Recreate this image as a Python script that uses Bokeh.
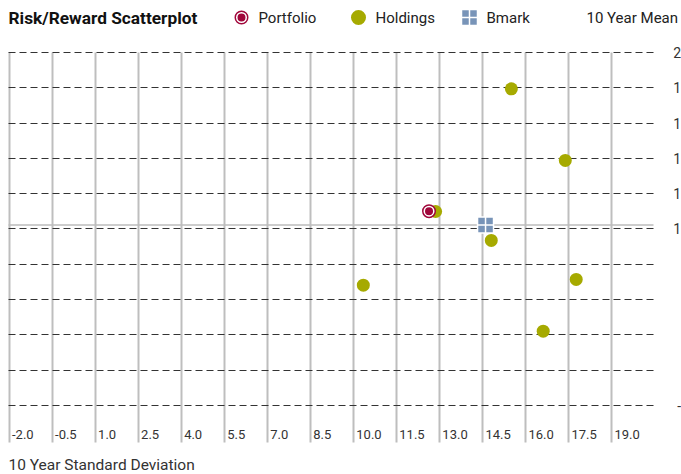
from bokeh.plotting import figure
from bokeh.models import ColumnDataSource, FixedTicker, Range1d, Grid
from bokeh.core.properties import value
from bokeh.embed import file_html
from bokeh.resources import INLINE

# ---------------- data ----------------
chart_title = "Risk/Reward Scatterplot"
x_title = "10 Year Standard Deviation"
y_title = "10 Year Mean"
series_names = ["Portfolio", "Holdings", "Bmark"]

x_ticks = [-2.0, -0.5, 1.0, 2.5, 4.0, 5.5, 7.0, 8.5, 10.0, 11.5, 13.0, 14.5, 16.0, 17.5, 19.0]
x_tick_labels = ["-2.0", "-0.5", "1.0", "2.5", "4.0", "5.5", "7.0", "8.5",
                 "10.0", "11.5", "13.0", "14.5", "16.0", "17.5", "19.0"]
y_ticks = [22.0, 19.6, 17.2, 14.8, 12.4, 10.0, 7.6, 5.2, 2.8, 0.4, -2.0]
# the right-hand labels as they are visible in the reference (cut at its edge)
y_tick_labels = ["2", "1", "1", "1", "1", "1", "", "", "", "", "-"]

portfolio_sd = [12.64]
portfolio_mean = [11.21]
holdings_sd = [12.87, 15.51, 17.39, 14.81, 17.77, 10.35, 16.62]
holdings_mean = [11.19, 19.53, 14.66, 9.22, 6.57, 6.18, 3.05]
bmark_sd = [14.61]
bmark_mean = [10.27]

# ---------------- style ----------------
C_PORT = "#A0063A"
C_HOLD = "#A6AA00"
C_BMARK = "#7894B8"
C_TEXT = "#222222"
FONT = value("Roboto")

# ---------------- layout (pixels -> data via linear scales) ----------------
W, H = 681, 474
X_PX, Y_PX = 28.69, 14.708          # pixels per data unit
CX_FIRST, CY_FIRST = 8.5, 52.0      # canvas position of first x tick / top y tick
PLOT_RIGHT_CX, PLOT_BOTTOM_CY = 653.0, 442.0


def to_x(cx):
    return x_ticks[0] + (cx - CX_FIRST) / X_PX


def to_y(cy):
    return y_ticks[0] - (cy - CY_FIRST) / Y_PX


p = figure(width=W, height=H,
           x_range=Range1d(to_x(0), to_x(W)), y_range=Range1d(to_y(H), to_y(0)),
           x_axis_location=None, y_axis_location=None,
           toolbar_location=None, output_backend="svg",
           min_border=0, outline_line_color=None,
           background_fill_color="white", border_fill_color="white")
p.center = []

x_lo, x_hi = to_x(8), to_x(PLOT_RIGHT_CX)
y_lo, y_hi = to_y(PLOT_BOTTOM_CY), y_ticks[0]

if "cross_bounds" in Grid.properties():
    vgrid = Grid(dimension=0, ticker=FixedTicker(ticks=x_ticks),
                 grid_line_color="#BEBEBE", grid_line_width=2, cross_bounds=(y_lo, y_hi))
    hgrid = Grid(dimension=1, ticker=FixedTicker(ticks=y_ticks),
                 grid_line_color="#333333", grid_line_width=1, grid_line_dash="7 4",
                 cross_bounds=(x_lo, x_hi))
    p.add_layout(vgrid, "center")
    p.add_layout(hgrid, "center")
else:
    p.segment(x0=x_ticks, x1=x_ticks, y0=y_lo, y1=y_hi, line_color="#BEBEBE", line_width=2)
    p.segment(x0=x_lo, x1=x_hi, y0=y_ticks, y1=y_ticks, line_color="#333333",
              line_width=1, line_dash="7 4")

# benchmark mean reference line
p.segment(x0=x_lo, x1=x_hi, y0=bmark_mean, y1=bmark_mean, line_color="#BDBDBD", line_width=1.5)

# ---------------- points ----------------
p.scatter(holdings_sd, holdings_mean, marker="circle", size=13,
          fill_color=C_HOLD, line_color=None)
p.scatter(bmark_sd, bmark_mean, marker="square_cross", size=16,
          fill_color=C_BMARK, line_color="white", line_width=1.5)
p.scatter(portfolio_sd, portfolio_mean, marker="circle", size=9.5,
          fill_color=None, line_color=C_PORT, line_width=4.5)
p.scatter(portfolio_sd, portfolio_mean, marker="circle", size=9.5,
          fill_color=C_PORT, line_color="white", line_width=1.5)

# ---------------- tick labels ----------------
xt = ColumnDataSource(dict(x=x_ticks, t=x_tick_labels))
p.text(x="x", y=to_y(434), text="t", source=xt, x_offset=3,
       text_align="left", text_baseline="middle",
       text_font=FONT, text_font_size="13px", text_color="#333333")

yt = ColumnDataSource(dict(y=y_ticks, t=y_tick_labels))
p.text(x=to_x(680.5), y="y", text="t", source=yt,
       text_align="right", text_baseline="middle",
       text_font=FONT, text_font_size="14px", text_color="#333333")

p.text(x=to_x(8), y=to_y(464), text=[x_title], text_align="left", text_baseline="middle",
       text_font=FONT, text_font_size="15.5px", text_color="#333333")

# ---------------- title + legend ----------------
TOP_CY = 17
p.text(x=to_x(8), y=to_y(TOP_CY), text=[chart_title], text_align="left", text_baseline="middle",
       text_font=FONT, text_font_size="17.3px", text_font_style="bold", text_color="#111111")

icon_cx = [241, 358, 469]
label_cx = [258, 375, 486]
ly = to_y(TOP_CY)
p.scatter([to_x(icon_cx[0])], [ly], marker="circle", size=9.5,
          fill_color=None, line_color=C_PORT, line_width=4.5)
p.scatter([to_x(icon_cx[0])], [ly], marker="circle", size=9.5,
          fill_color=C_PORT, line_color="white", line_width=1.5)
p.scatter([to_x(icon_cx[1])], [ly], marker="circle", size=15,
          fill_color=C_HOLD, line_color=None)
p.scatter([to_x(icon_cx[2])], [ly], marker="square_cross", size=16,
          fill_color=C_BMARK, line_color="white", line_width=1.5)
p.text(x=[to_x(c) for c in label_cx], y=ly, text=series_names,
       text_align="left", text_baseline="middle",
       text_font=FONT, text_font_size="15px", text_color=C_TEXT)
p.text(x=to_x(586), y=ly, text=[y_title], text_align="left", text_baseline="middle",
       text_font=FONT, text_font_size="15px", text_color=C_TEXT)

open("out.html", "w").write(file_html(p, INLINE))
